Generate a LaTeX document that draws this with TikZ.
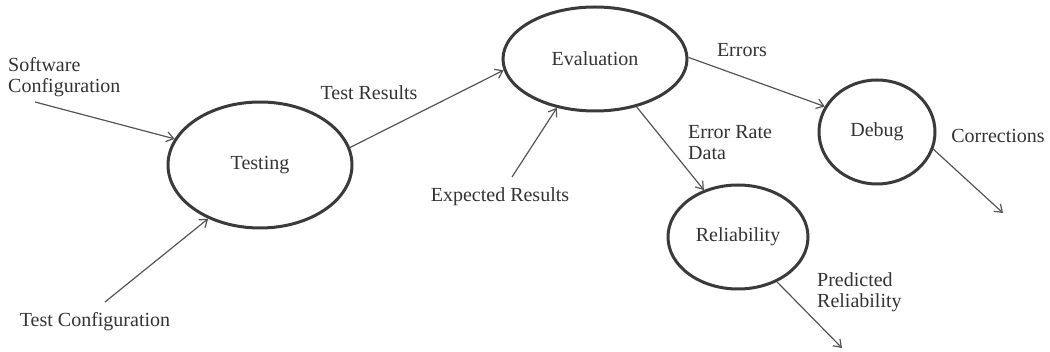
\documentclass[tikz,border=0pt]{standalone}
\usepackage{fontspec}
\setmainfont{Liberation Serif}
\usetikzlibrary{shapes.geometric,arrows.meta}
\definecolor{ink}{HTML}{333333}
\definecolor{ring}{HTML}{3A3A3A}
\definecolor{wire}{HTML}{555555}
\tikzset{
  proc/.style={ellipse,draw=ring,line width=3pt,inner sep=0pt,text=ink,
    font=\fontsize{20}{21}\selectfont},
  lbl/.style={inner sep=0pt,text=ink,font=\fontsize{20}{21}\selectfont},
  flow/.style={draw=wire,line width=1.2pt,-{Straight Barb[length=7pt,width=10pt]}}
}
\begin{document}
\begin{tikzpicture}[x=1pt,y=-1pt]
\useasboundingbox (0,0) rectangle (1050,352);
% processes
\node[proc,minimum width=184pt,minimum height=126pt] (testing) at (260,165) {Testing};
\node[proc,minimum width=184pt,minimum height=104pt] (eval) at (595,59) {Evaluation};
\node[proc,minimum width=116pt,minimum height=104pt] (debug) at (877,132) {Debug};
\node[proc,minimum width=140pt,minimum height=104pt] (rel) at (738,237) {Reliability};
% free ends
\coordinate (scs) at (35,102);
\coordinate (tcs) at (105,302);
\coordinate (ers) at (512,177);
\coordinate (corre) at (1003,213);
\coordinate (prede) at (842,348);
% connectors
\draw[flow] (scs) -- (testing.163);
\draw[flow] (tcs) -- (testing.226);
\draw[flow] (testing.11) -- (eval.187);
\draw[flow] (ers) -- (eval.232);
\draw[flow] (eval.1) -- (debug.154);
\draw[flow] (eval.311) -- (rel.126);
\draw[flow] (debug.343) -- (corre);
\draw[flow] (rel.311) -- (prede);
% labels
\node[lbl,anchor=west,align=left] (lsc) at (8,77.5) {Software\\Configuration};
\node[lbl] (ltc) at (95,322) {Test Configuration};
\node[lbl] (ltr) at (369,93) {Test Results};
\node[lbl] (ler) at (500,197) {Expected Results};
\node[lbl] (lerr) at (742,50) {Errors};
\node[lbl,anchor=west,align=left] (lrate) at (688,143) {Error Rate\\Data};
\node[lbl] (lcorr) at (998,136) {Corrections};
\node[lbl,anchor=west,align=left] (lpred) at (817,292) {Predicted\\Reliability};
\end{tikzpicture}
\end{document}
